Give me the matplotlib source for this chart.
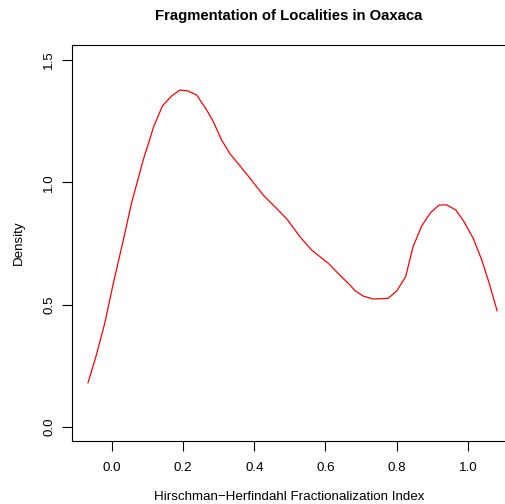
import matplotlib
matplotlib.use('Agg')
import matplotlib.pyplot as plt

plt.rcParams['font.family'] = ['Liberation Sans', 'DejaVu Sans']

# density curve (x = HH index, y = density)
hh_index = [-0.067, -0.045, -0.020, 0.004, 0.030, 0.055, 0.088, 0.118, 0.142,
            0.168, 0.191, 0.212, 0.238, 0.266, 0.285, 0.308, 0.332, 0.360,
            0.392, 0.425, 0.458, 0.492, 0.528, 0.561, 0.608, 0.640, 0.669,
            0.683, 0.706, 0.734, 0.776, 0.800, 0.825, 0.846, 0.870, 0.895,
            0.919, 0.940, 0.966, 0.989, 1.015, 1.039, 1.060, 1.082]
density = [0.181, 0.287, 0.424, 0.587, 0.750, 0.914, 1.091, 1.230, 1.312,
           1.353, 1.377, 1.374, 1.357, 1.296, 1.248, 1.173, 1.116, 1.067,
           1.009, 0.948, 0.900, 0.849, 0.778, 0.723, 0.669, 0.621, 0.580,
           0.557, 0.535, 0.523, 0.526, 0.556, 0.614, 0.737, 0.821, 0.876,
           0.907, 0.908, 0.887, 0.839, 0.771, 0.682, 0.587, 0.475]

x_ticks = [0.0, 0.2, 0.4, 0.6, 0.8, 1.0]
y_ticks = [0.0, 0.5, 1.0, 1.5]

fig = plt.figure(figsize=(5.06, 5.04), dpi=100)
ax = fig.add_axes([72/506, 63/504, 434/506, 396/504])

ax.plot(hh_index, density, color='red', lw=0.9)

ax.set_xlim(-0.112, 1.107)
ax.set_ylim(-0.057, 1.561)
ax.set_xticks(x_ticks)
ax.set_xticklabels(['%.1f' % v for v in x_ticks])
ax.set_yticks(y_ticks)
ax.set_yticklabels(['%.1f' % v for v in y_ticks], rotation=90, va='center')
ax.tick_params(direction='out', length=7, width=0.8, labelsize=9.6, pad=8)
ax.tick_params(axis='y', pad=5)
for s in ax.spines.values():
    s.set_linewidth(0.8)

ax.set_xlabel('Hirschman\u2212Herfindahl Fractionalization Index', fontsize=9.6, labelpad=12.5)
ax.set_ylabel('Density', fontsize=9.6, labelpad=13.5)
ax.set_title('Fragmentation of Localities in Oaxaca', fontsize=10.7,
             fontweight='bold', pad=18)

fig.savefig('out.png', dpi=100)
